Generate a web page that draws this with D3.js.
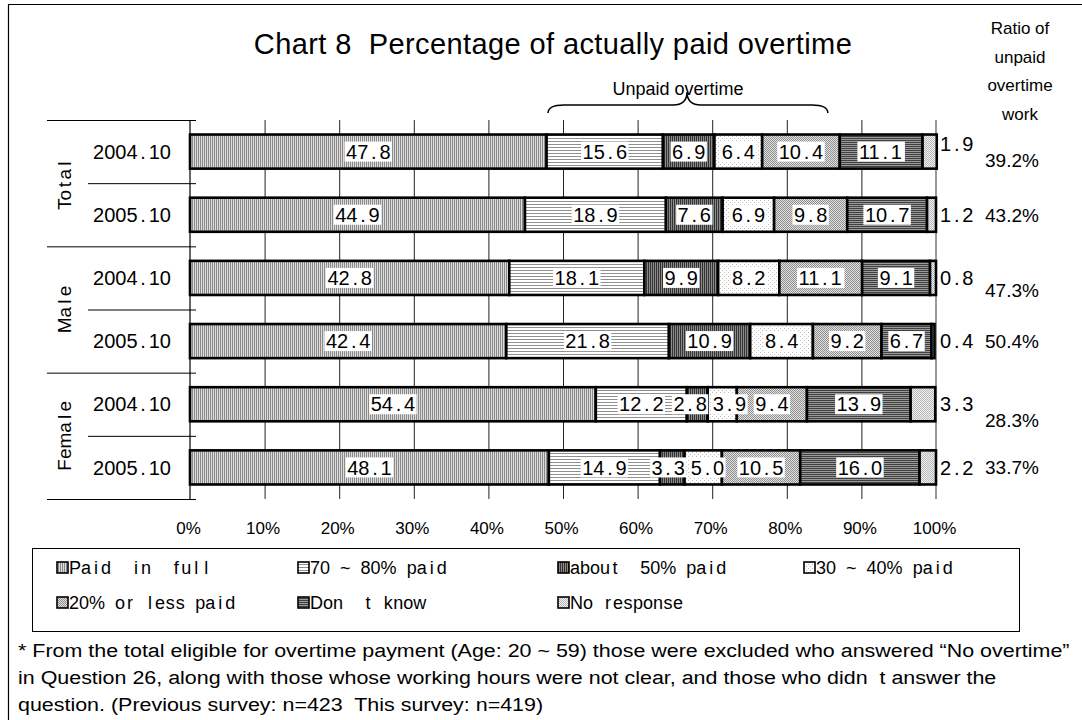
<!DOCTYPE html>
<html><head><meta charset="utf-8">
<script src="https://cdn.jsdelivr.net/npm/d3@7"></script>
<style>
body{margin:0;background:#fff}
svg{display:block}
text{font-family:"Liberation Sans",Arial,sans-serif;fill:#000;white-space:pre}
</style>
</head><body>
<svg id="chart" width="1082" height="720"></svg>
<script>
// ---- data ----
const groups = ["Total", "Male", "Female"];
const years = ["2004.10", "2005.10"];
const seriesNames = ["Paid  in  full", "70 ~ 80% paid", "about  50% paid", "30 ~ 40% paid",
                     "20% or less paid", "Don  t know", "No response"];
// one entry per row: Total 04, Total 05, Male 04, Male 05, Female 04, Female 05
const paidInFull   = [47.8, 44.9, 42.8, 42.4, 54.4, 48.1];
const paid70to80   = [15.6, 18.9, 18.1, 21.8, 12.2, 14.9];
const paidAbout50  = [6.9, 7.6, 9.9, 10.9, 2.8, 3.3];
const paid30to40   = [6.4, 6.9, 8.2, 8.4, 3.9, 5.0];
const paid20OrLess = [10.4, 9.8, 11.1, 9.2, 9.4, 10.5];
const dontKnow     = [11.1, 10.7, 9.1, 6.7, 13.9, 16.0];
const noResponse   = [1.9, 1.2, 0.8, 0.4, 3.3, 2.2];
const unpaidRatio  = [39.2, 43.2, 47.3, 50.4, 28.3, 33.7];
const tickValues   = [0, 10, 20, 30, 40, 50, 60, 70, 80, 90, 100];
const tickLabels   = ["0%", "10%", "20%", "30%", "40%", "50%", "60%", "70%", "80%", "90%", "100%"];

const seriesValues = [paidInFull, paid70to80, paidAbout50, paid30to40, paid20OrLess, dontKnow, noResponse];
const keys = seriesValues.map((_, i) => "s" + i);
const rows = [];
groups.forEach((g, gi) => years.forEach((yr, yi) => {
  const idx = gi * 2 + yi;
  const r = { id: g + " " + yr, group: g, year: yr, idx };
  seriesValues.forEach((arr, si) => r[keys[si]] = arr[idx]);
  rows.push(r);
}));

// ---- helpers ----
// Lay a string out with a minimum cell per character, so narrow glyphs
// (i, l, '.', spaces) get the wide, even spacing of the chart's label font.
const ctx = document.createElement("canvas").getContext("2d");
function cellText(sel, str, size, cellEm) {
  ctx.font = `${size}px "Liberation Sans"`;
  const cell = size * cellEm;
  const chars = Array.from(str);
  const w = chars.map(c => ctx.measureText(c).width);
  const pad = w.map(v => Math.max(0, cell - v) / 2);
  const dx = chars.map((c, i) => (i === 0 ? pad[0] : pad[i - 1] + pad[i]));
  sel.style("font-size", size + "px").text(str).attr("dx", dx.map(v => v.toFixed(2)).join(" "));
  return d3.sum(w) + 2 * d3.sum(pad);
}

// ---- layout ----
const svg = d3.select("#chart");
const plot = { left: 190, right: 936, top: 120, bottom: 499 };

const x = d3.scaleLinear().domain([0, 100]).range([plot.left, plot.right]);
const y = d3.scaleBand().domain(rows.map(d => d.id)).range([plot.top, plot.bottom])
  .paddingInner(0.46).paddingOuter(0.23);
const rowStep = y.step();
const rowMid = d => y(d.id) + y.bandwidth() / 2;

// ---- fill patterns ----
const defs = svg.append("defs");
function pattern(id, w, h, bg, cells) {
  const p = defs.append("pattern").attr("id", id).attr("patternUnits", "userSpaceOnUse")
    .attr("width", w).attr("height", h);
  p.append("rect").attr("width", w).attr("height", h).attr("fill", bg);
  cells.forEach(c => p.append("rect").attr("x", c[0]).attr("y", c[1])
    .attr("width", c[2]).attr("height", c[3]).attr("fill", c[4]));
}
pattern("p0", 2, 2, "#dcdcdc", [[0, 0, 1, 2, "#8a8a8a"]]);                 // vertical, light
pattern("p1", 3, 3, "#ffffff", [[0, 0, 3, 1, "#8f8f8f"]]);                 // horizontal, light
pattern("p2", 2, 2, "#8a8a8a", [[0, 0, 1, 2, "#333333"]]);                 // vertical, dark
pattern("p3", 4, 4, "#ffffff", [[0, 0, 1, 1, "#bdbdbd"], [2, 2, 1, 1, "#bdbdbd"]]); // sparse dots
pattern("p4", 2, 2, "#e2e2e2", [[0, 0, 1, 1, "#8e8e8e"], [1, 1, 1, 1, "#8e8e8e"]]); // checker, medium
pattern("p5", 2, 2, "#9a9a9a", [[0, 0, 2, 1, "#404040"]]);                 // horizontal, dark
pattern("p6", 2, 2, "#f0f0f0", [[0, 0, 1, 1, "#b8b8b8"], [1, 1, 1, 1, "#b8b8b8"]]); // checker, light
const fills = keys.map((_, i) => `url(#p${i})`);

// ---- frame (top and left edges) ----
svg.append("path").attr("d", "M8.5,720 L8.5,4.5 L1082,4.5")
  .attr("fill", "none").attr("stroke", "#000").attr("stroke-width", 1.2);

// ---- title ----
svg.append("text").attr("x", 553).attr("y", 54).attr("text-anchor", "middle")
  .style("font-size", "29px").style("letter-spacing", "0.4px")
  .text("Chart 8  Percentage of actually paid overtime");

// ---- gridlines ----
const grid = svg.append("g");
grid.selectAll("line").data(tickValues.filter(v => v > 0 && v < 100)).join("line")
  .attr("x1", d => x(d) + 0.5).attr("x2", d => x(d) + 0.5)
  .attr("y1", plot.top).attr("y2", plot.bottom)
  .attr("stroke", "#222").attr("stroke-width", 1);
grid.append("line").attr("x1", x(100)).attr("x2", x(100)).attr("y1", plot.top).attr("y2", plot.bottom)
  .attr("stroke", "#9a9a9a").attr("stroke-width", 2);

// ---- category axis (left) ----
const cat = svg.append("g");
cat.append("line").attr("x1", plot.left).attr("x2", plot.left).attr("y1", plot.top).attr("y2", plot.bottom)
  .attr("stroke", "#000").attr("stroke-width", 1.2);
d3.range(groups.length + 1).forEach(i => {
  const yy = plot.top + i * 2 * rowStep;
  cat.append("line").attr("x1", 47).attr("x2", plot.left + 6).attr("y1", yy + 0.5).attr("y2", yy + 0.5)
    .attr("stroke", "#000").attr("stroke-width", 1);
});
groups.forEach((g, i) => {
  const yy = plot.top + (i * 2 + 1) * rowStep;
  cat.append("line").attr("x1", 88).attr("x2", plot.left + 6).attr("y1", yy + 0.5).attr("y2", yy + 0.5)
    .attr("stroke", "#000").attr("stroke-width", 1);
});
rows.forEach(d => {
  const t = cat.append("text").attr("y", rowMid(d)).attr("dy", "0.36em");
  const w = cellText(t, d.year, 20, 0.556);
  t.attr("x", 132 - w / 2);
});
groups.forEach((g, i) => {
  const t = cat.append("text")
    .attr("transform", `translate(64,${plot.top + (i * 2 + 1) * rowStep}) rotate(-90)`)
    .attr("dy", "0.36em");
  const w = cellText(t, g, 19, 0.556);
  t.attr("x", -w / 2);
});

// ---- value axis (bottom) ----
const xAxis = d3.axisBottom(x).tickValues(tickValues).tickFormat((d, i) => tickLabels[i]).tickSize(0);
const xa = svg.append("g").attr("transform", `translate(0,${plot.bottom})`).call(xAxis);
xa.select(".domain").remove();
xa.selectAll("text").attr("y", 29).attr("dy", "0.35em").attr("x", -2)
  .style("font-size", "17px").style("font-family", "Liberation Sans, Arial, sans-serif").attr("fill", "#000");

// ---- bars ----
const stacked = d3.stack().keys(keys)(rows);
const fmt = d3.format(".1f");
const layers = svg.append("g").selectAll("g").data(stacked).join("g")
  .attr("fill", (d, i) => fills[i]);
layers.selectAll("rect").data(d => d).join("rect")
  .attr("x", d => x(d[0])).attr("width", d => x(d[1]) - x(d[0]))
  .attr("y", d => y(d.data.id)).attr("height", y.bandwidth())
  .attr("stroke", "#000").attr("stroke-width", 2.6);

// segment labels on white boxes (all except "No response"); neighbours that
// would collide are pushed apart along the bar
const labelLayer = svg.append("g");
rows.forEach((row, ri) => {
  const items = stacked.slice(0, 6).map(layer => {
    const d = layer[ri];
    const g = labelLayer.append("g");
    const bg = g.append("rect").attr("fill", "#fff");
    const t = g.append("text").attr("y", rowMid(row)).attr("dy", "0.36em");
    const w = cellText(t, fmt(d[1] - d[0]), 20, 0.556) + 3;
    return { bg, t, w, c: (x(d[0]) + x(d[1])) / 2 };
  });
  for (let k = 0; k < 30; k++) {
    for (let i = 0; i < items.length - 1; i++) {
      const a = items[i], b = items[i + 1];
      const ov = (a.c + a.w / 2) - (b.c - b.w / 2) + 3;
      if (ov > 0) { a.c -= ov / 2; b.c += ov / 2; }
    }
  }
  items.forEach(it => {
    it.t.attr("x", it.c - it.w / 2 + 1.5);
    it.bg.attr("x", it.c - it.w / 2).attr("width", it.w).attr("y", rowMid(row) - 10).attr("height", 20);
  });
});

// "No response" value and unpaid ratio, right of the bars
const valueNudge = [-8, 0, 0, 0, 0, 0];
const ratioNudge = [9, 0, 12, 0, 16, 0];
const right = svg.append("g");
rows.forEach((d, i) => {
  const t = right.append("text").attr("x", x(100) + 4).attr("y", rowMid(d) + valueNudge[i]).attr("dy", "0.36em");
  cellText(t, fmt(noResponse[d.idx]), 20, 0.556);
});
right.selectAll("text.ratio").data(rows).join("text").attr("class", "ratio")
  .attr("x", 985).attr("y", (d, i) => rowMid(d) + ratioNudge[i])
  .attr("dy", "0.36em").style("font-size", "19px")
  .text(d => fmt(unpaidRatio[d.idx]) + "%");

// header of the ratio column
const head = ["Ratio of", "unpaid", "overtime", "work"];
svg.append("g").selectAll("text").data(head).join("text")
  .attr("x", 1020).attr("y", (d, i) => 34 + i * 28.5).attr("text-anchor", "middle")
  .style("font-size", "17px").text(d => d);

// brace over the unpaid categories
const bx0 = x(48), bx1 = x(85.5), bm = 687, by = 105;
svg.append("path")
  .attr("d", `M${bx0},${by + 8} Q${bx0},${by} ${bx0 + 16},${by} L${bm - 14},${by} Q${bm},${by} ${bm},${by - 13}` +
             ` Q${bm},${by} ${bm + 14},${by} L${bx1 - 16},${by} Q${bx1},${by} ${bx1},${by + 8}`)
  .attr("fill", "none").attr("stroke", "#000").attr("stroke-width", 1.5);
svg.append("text").attr("x", 678).attr("y", 95).attr("text-anchor", "middle")
  .style("font-size", "18px").text("Unpaid overtime");

// ---- legend ----
const lg = svg.append("g");
lg.append("rect").attr("x", 32.5).attr("y", 548.5).attr("width", 987).attr("height", 83)
  .attr("fill", "#fff").attr("stroke", "#000").attr("stroke-width", 1);
const colX = [57, 298, 558, 804];
seriesNames.forEach((name, i) => {
  const cx = colX[i % 4], cy = i < 4 ? 568 : 603;
  lg.append("rect").attr("x", cx).attr("y", cy - 6).attr("width", 11).attr("height", 11)
    .attr("fill", fills[i]).attr("stroke", "#000").attr("stroke-width", 1.6);
  const t = lg.append("text").attr("x", cx + 12).attr("y", cy).attr("dy", "0.36em");
  cellText(t, name, 18, 0.556);
});

// ---- footnote ----
const notes = [
  "* From the total eligible for overtime payment (Age: 20 ~ 59) those were excluded who answered \u201cNo overtime\u201d",
  "in Question 26, along with those whose working hours were not clear, and those who didn  t answer the",
  "question. (Previous survey: n=423  This survey: n=419)"
];
const fn = svg.append("g");
fn.selectAll("text").data(notes).join("text")
  .attr("x", 0).attr("y", (d, i) => 657 + i * 27)
  .style("font-size", "19px").text(d => d);
const firstW = fn.select("text").node().getComputedTextLength();
fn.attr("transform", `translate(18,0) scale(${1052 / firstW},1)`);
</script>
</body></html>
